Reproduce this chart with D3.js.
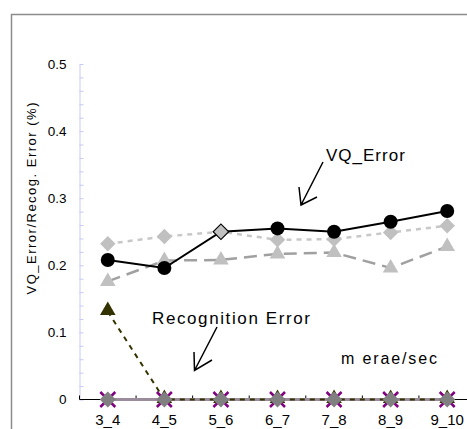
<!DOCTYPE html>
<html lang="en">
<head>
  <meta charset="UTF-8">
  <title>VQ Error / Recognition Error</title>
  <script src="https://d3js.org/d3.v7.min.js"></script>
  <style>
    body {
      margin: 0;
      background-color: white;
      font-family: "Liberation Sans", Arial, sans-serif;
    }
    .tick-label text {
      fill: #000;
    }
  </style>
</head>
<body>
  <div id="chart"></div>

  <script>
    // Data
    const categories = ['3_4', '4_5', '5_6', '6_7', '7_8', '8_9', '9_10'];
    const vqCircles = [0.208, 0.196, 0.250, 0.255, 0.250, 0.265, 0.281];
    const vqDiamonds = [0.232, 0.243, 0.250, 0.238, 0.239, 0.249, 0.259];
    const vqTriangles = [0.176, 0.207, 0.208, 0.217, 0.219, 0.196, 0.228];
    const recTriangles = [0.131, 0, 0, 0, 0, 0, 0];
    const recCrosses = [0, 0, 0, 0, 0, 0, 0];
    const recDiamonds = [0, 0, 0, 0, 0, 0, 0];
    const yLabelTicks = [0, 0.1, 0.2, 0.3, 0.4, 0.5];
    const yMinorTicks = d3.range(0, 0.501, 0.02);

    const width = 467;
    const height = 429;

    const svg = d3.select('#chart')
      .append('svg')
      .attr('width', width)
      .attr('height', height);

    // outer frame
    svg.append('rect')
      .attr('x', 11.5)
      .attr('y', 14.5)
      .attr('width', 500)
      .attr('height', 500)
      .attr('fill', 'none')
      .attr('stroke', '#8c8c8c')
      .attr('stroke-width', 1.5);

    // Scales
    const x = d3.scaleBand()
      .domain(categories)
      .range([79.5, 79.5 + 56.57 * categories.length])
      .paddingInner(0)
      .paddingOuter(0);

    const y = d3.scaleLinear()
      .domain([0, 0.5])
      .range([399.5, 64]);

    const cx = c => x(c) + x.bandwidth() / 2;

    // y axis: light blue line with inward minor ticks
    svg.append('g')
      .attr('transform', 'translate(79.5,0)')
      .call(d3.axisRight(y).tickValues(yMinorTicks).tickSize(4).tickSizeOuter(0).tickFormat(''))
      .call(g => g.selectAll('path, line').attr('stroke', '#c8c8f4'));

    // y labels
    svg.append('g')
      .attr('class', 'tick-label')
      .attr('transform', 'translate(79.5,0)')
      .call(d3.axisLeft(y).tickValues(yLabelTicks).tickSize(0).tickPadding(13).tickFormat(d => d === 0 ? '0' : d3.format('.1f')(d)))
      .call(g => g.select('.domain').remove())
      .call(g => g.selectAll('text').style('font-size', '13.5px').attr('font-family', null));

    // x axis labels
    svg.append('g')
      .attr('class', 'tick-label')
      .attr('transform', 'translate(0,399.5)')
      .call(d3.axisBottom(x).tickSize(0).tickPadding(15))
      .call(g => g.select('.domain').remove())
      .call(g => g.selectAll('text').style('font-size', '15px').attr('font-family', null));

    svg.append('line')
      .attr('x1', x.range()[0])
      .attr('x2', width)
      .attr('y1', y(0))
      .attr('y2', y(0))
      .attr('stroke', '#000')
      .attr('stroke-width', 1);

    // boundary ticks between categories (pointing up)
    svg.selectAll('.xtick')
      .data(d3.range(categories.length + 1))
      .enter()
      .append('line')
      .attr('x1', i => x.range()[0] + i * x.bandwidth())
      .attr('x2', i => x.range()[0] + i * x.bandwidth())
      .attr('y1', y(0))
      .attr('y2', y(0) - 4)
      .attr('stroke', '#000');

    // axis title
    svg.append('text')
      .attr('transform', 'translate(36,198.5) rotate(-90)')
      .attr('text-anchor', 'middle')
      .attr('textLength', 192)
      .attr('lengthAdjust', 'spacing')
      .style('font-size', '13px')
      .text('VQ_Error/Recog. Error (%)');

    const line = d3.line()
      .x((d, i) => cx(categories[i]))
      .y(d => y(d));

    const tri = d3.symbol().type(d3.symbolTriangle).size(105);
    const diamond = d3.symbol().type(d3.symbolSquare).size(120);
    const bigDiamond = d3.symbol().type(d3.symbolSquare).size(130);
    const indexed = arr => arr.map((v, i) => ({ v, i }));

    // zero-line series: purple x, gray diamond, olive triangle
    svg.append('path')
      .datum(recCrosses)
      .attr('d', line)
      .attr('fill', 'none')
      .attr('stroke', '#800080')
      .attr('stroke-width', 2.5);

    svg.append('path')
      .datum(recDiamonds)
      .attr('d', line)
      .attr('fill', 'none')
      .attr('stroke', '#9a8c9a')
      .attr('stroke-width', 3);

    svg.append('path')
      .datum(recTriangles)
      .attr('d', line)
      .attr('fill', 'none')
      .attr('stroke', '#333300')
      .attr('stroke-width', 2)
      .attr('stroke-dasharray', '5,5');

    svg.selectAll('.rec-tri')
      .data(indexed(recTriangles))
      .enter()
      .append('path')
      .attr('d', tri)
      .attr('transform', d => `translate(${cx(categories[d.i])},${y(d.v) - 1})`)
      .attr('fill', '#333300');

    svg.selectAll('.rec-x')
      .data(indexed(recCrosses))
      .enter()
      .append('path')
      .attr('d', 'M-7.5,-7.5L7.5,7.5M-7.5,7.5L7.5,-7.5')
      .attr('transform', d => `translate(${cx(categories[d.i])},${y(d.v)})`)
      .attr('stroke', '#800080')
      .attr('stroke-width', 2.5);

    svg.selectAll('.rec-d')
      .data(indexed(recDiamonds))
      .enter()
      .append('path')
      .attr('d', bigDiamond)
      .attr('transform', d => `translate(${cx(categories[d.i])},${y(d.v)}) rotate(45)`)
      .attr('fill', '#808080');

    // light gray triangles, long dash
    svg.append('path')
      .datum(vqTriangles)
      .attr('d', line)
      .attr('fill', 'none')
      .attr('stroke', '#a0a0a0')
      .attr('stroke-width', 2.5)
      .attr('stroke-dasharray', '13,7');

    svg.selectAll('.vq-tri')
      .data(indexed(vqTriangles))
      .enter()
      .append('path')
      .attr('d', tri)
      .attr('transform', d => `translate(${cx(categories[d.i])},${y(d.v)})`)
      .attr('fill', '#c0c0c0');

    // light gray diamonds, dotted
    svg.append('path')
      .datum(vqDiamonds)
      .attr('d', line)
      .attr('fill', 'none')
      .attr('stroke', '#c8c8c8')
      .attr('stroke-width', 2.5)
      .attr('stroke-dasharray', '5,5');

    // black circles, solid
    svg.append('path')
      .datum(vqCircles)
      .attr('d', line)
      .attr('fill', 'none')
      .attr('stroke', '#000')
      .attr('stroke-width', 2);

    svg.selectAll('.vq-d')
      .data(indexed(vqDiamonds))
      .enter()
      .append('path')
      .attr('d', diamond)
      .attr('transform', d => `translate(${cx(categories[d.i])},${y(d.v)}) rotate(45)`)
      .attr('fill', '#c0c0c0')
      .attr('stroke', d => d.v === vqCircles[d.i] ? '#000' : 'none')
      .attr('stroke-width', 1.2);

    // circles (where a diamond sits on the same value the diamond is shown instead)
    svg.selectAll('.vq-c')
      .data(indexed(vqCircles).filter(d => d.v !== vqDiamonds[d.i]))
      .enter()
      .append('circle')
      .attr('cx', d => cx(categories[d.i]))
      .attr('cy', d => y(d.v))
      .attr('r', 7)
      .attr('fill', '#000');

    // annotations
    const note = svg.append('g').attr('font-size', '17px');

    note.append('text')
      .attr('x', 326)
      .attr('y', 161)
      .attr('letter-spacing', '1px')
      .text('VQ_Error');

    note.append('text')
      .attr('x', 152)
      .attr('y', 324)
      .attr('textLength', 158)
      .text('Recognition Error');

    note.append('text')
      .attr('x', 341)
      .attr('y', 364)
      .style('font-size', '16px')
      .attr('textLength', 96)
      .text('m erae/sec');

    const arrows = [
      { from: [323, 162], to: [301, 205], w1: [299, 187], w2: [317, 197] },
      { from: [217, 327], to: [194.5, 370.5], w1: [194, 352], w2: [212, 360] }
    ];

    arrows.forEach(a => {
      svg.append('path')
        .attr('d', `M${a.from}L${a.to}M${a.w1}L${a.to}L${a.w2}`)
        .attr('fill', 'none')
        .attr('stroke', '#000')
        .attr('stroke-width', 1.5);
    });
  </script>
</body>
</html>
